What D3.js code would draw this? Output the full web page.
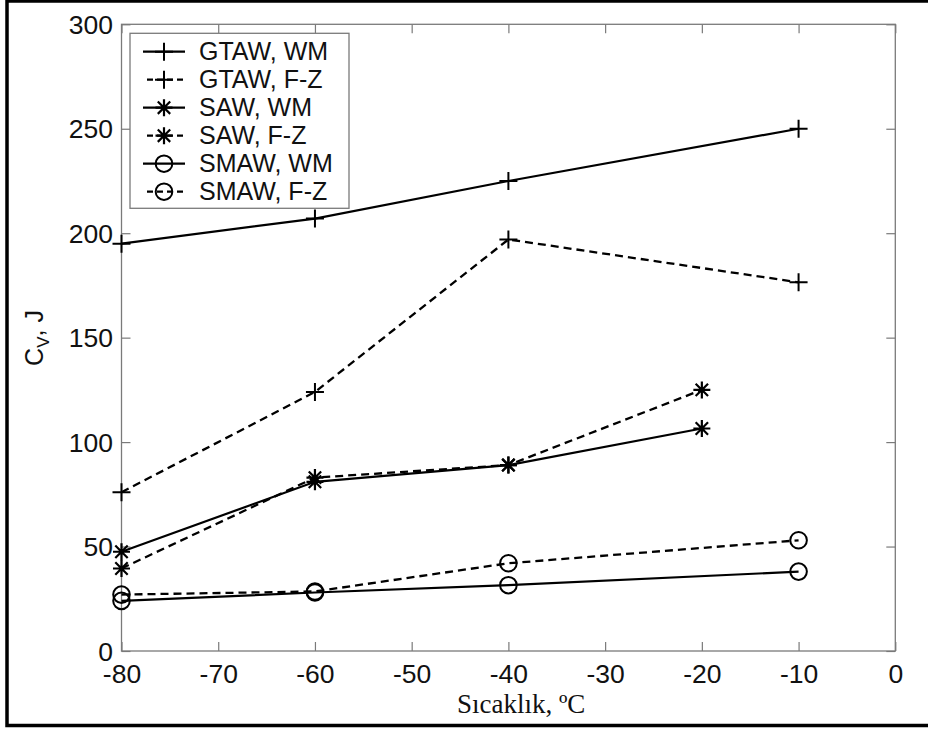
<!DOCTYPE html>
<html>
<head>
<meta charset="utf-8">
<script src="https://cdn.jsdelivr.net/npm/d3@7"></script>
<style>
  body { margin: 0; background: #fff; }
  .tick text { font-family: "Liberation Sans", Arial, sans-serif; font-size: 26.5px; fill: #111; }
  .tick line { stroke: #7a7a7a; stroke-width: 1.2; }
</style>
</head>
<body>
<div class="chart"></div>
<script>
var svgWidth = 928;
var svgHeight = 729;

var margin = { top: 24.3, right: 32.7, bottom: 78, left: 121.5 };
var width = svgWidth - margin.left - margin.right;
var height = svgHeight - margin.top - margin.bottom;

// data
var tempsA = [-80, -60, -40, -10];   // GTAW and SMAW
var tempsSAW = [-80, -60, -40, -20];
var gtawWM = [195, 207, 225, 250];
var gtawFZ = [76, 124, 197, 176.5];
var sawWM = [47.5, 81, 89, 106.5];
var sawFZ = [39.5, 83, 89, 125];
var smawWM = [24, 28, 31.5, 38];
var smawFZ = [27, 28.5, 42, 53];
var xTicks = [-80, -70, -60, -50, -40, -30, -20, -10, 0];
var yTicks = [0, 50, 100, 150, 200, 250, 300];

var seriesNames = ["GTAW, WM", "GTAW, F-Z", "SAW, WM", "SAW, F-Z", "SMAW, WM", "SMAW, F-Z"];
var seriesX = [tempsA, tempsA, tempsSAW, tempsSAW, tempsA, tempsA];
var seriesY = [gtawWM, gtawFZ, sawWM, sawFZ, smawWM, smawFZ];
var seriesMarker = ["plus", "plus", "star", "star", "circle", "circle"];
var seriesDashed = [false, true, false, true, false, true];

var series = seriesNames.map(function(name, i) {
  return {
    name: name,
    marker: seriesMarker[i],
    dashed: seriesDashed[i],
    points: seriesX[i].map(function(x, j) { return { x: x, y: seriesY[i][j] }; })
  };
});

var svg = d3.select(".chart")
  .append("svg")
  .attr("width", svgWidth)
  .attr("height", svgHeight);

// outer frame (right edge runs off the picture)
svg.append("rect")
  .attr("x", 7)
  .attr("y", 1)
  .attr("width", 960)
  .attr("height", 724.5)
  .attr("fill", "none")
  .attr("stroke", "#000")
  .attr("stroke-width", 3.5);

var chartGroup = svg.append("g")
  .attr("transform", `translate(${margin.left}, ${margin.top})`);

var xScale = d3.scaleLinear().domain([-80, 0]).range([0, width]);
var yScale = d3.scaleLinear().domain([0, 300]).range([height, 0]);

var fmt = function(d) { return String(d); };

chartGroup.append("g")
  .attr("transform", `translate(0, ${height})`)
  .call(d3.axisBottom(xScale).tickValues(xTicks).tickFormat(fmt).tickSizeInner(-9).tickSizeOuter(0).tickPadding(13.5))
  .call(g => g.select(".domain").remove());

chartGroup.append("g")
  .call(d3.axisTop(xScale).tickValues(xTicks).tickFormat("").tickSizeInner(-9).tickSizeOuter(0))
  .call(g => g.select(".domain").remove());

chartGroup.append("g")
  .call(d3.axisLeft(yScale).tickValues(yTicks).tickFormat(fmt).tickSizeInner(-9).tickSizeOuter(0).tickPadding(8.5))
  .call(g => g.select(".domain").remove())
  .call(g => g.selectAll("text").attr("dy", "0.34em"));

chartGroup.append("g")
  .attr("transform", `translate(${width}, 0)`)
  .call(d3.axisRight(yScale).tickValues(yTicks).tickFormat("").tickSizeInner(-9).tickSizeOuter(0))
  .call(g => g.select(".domain").remove());

// axes box
chartGroup.append("rect")
  .attr("width", width)
  .attr("height", height)
  .attr("fill", "none")
  .attr("stroke", "#7a7a7a")
  .attr("stroke-width", 1.3);

// marker drawing
function drawMarker(g, type, cx, cy) {
  if (type === "plus") {
    g.append("path")
      .attr("d", `M${cx - 9},${cy}H${cx + 9}M${cx},${cy - 9}V${cy + 9}`)
      .attr("stroke", "#000").attr("stroke-width", 2).attr("fill", "none");
  } else if (type === "star") {
    var a = 6.2;
    g.append("path")
      .attr("d", `M${cx - 8.5},${cy}H${cx + 8.5}M${cx},${cy - 8.5}V${cy + 8.5}` +
        `M${cx - a},${cy - a}L${cx + a},${cy + a}M${cx - a},${cy + a}L${cx + a},${cy - a}`)
      .attr("stroke", "#000").attr("stroke-width", 2.2).attr("fill", "none");
  } else {
    g.append("circle")
      .attr("cx", cx).attr("cy", cy).attr("r", 8.3)
      .attr("stroke", "#000").attr("stroke-width", 2).attr("fill", "none");
  }
}

var line = d3.line()
  .x(d => xScale(d.x))
  .y(d => yScale(d.y));

series.forEach(function(s) {
  chartGroup.append("path")
    .datum(s.points)
    .attr("d", line)
    .attr("fill", "none")
    .attr("stroke", "#000")
    .attr("stroke-width", s.dashed ? 2.3 : 2.2)
    .attr("stroke-dasharray", s.dashed ? "8,5" : null);
});

series.forEach(function(s) {
  var mg = chartGroup.append("g");
  s.points.forEach(function(p) {
    drawMarker(mg, s.marker, xScale(p.x), yScale(p.y));
  });
});

// legend
var legend = svg.append("g");
legend.append("rect")
  .attr("x", 130)
  .attr("y", 33.3)
  .attr("width", 219)
  .attr("height", 175)
  .attr("fill", "#fff")
  .attr("stroke", "#7a7a7a")
  .attr("stroke-width", 1.3);

series.forEach(function(s, i) {
  var ly = 51.7 + i * 28;
  var row = legend.append("g");
  row.append("line")
    .attr("x1", s.dashed ? 147 : 143)
    .attr("x2", s.dashed ? 184 : 185)
    .attr("y1", ly).attr("y2", ly)
    .attr("stroke", "#000")
    .attr("stroke-width", 2.2)
    .attr("stroke-dasharray", s.dashed ? "6,4" : null);
  drawMarker(row, s.marker, 164, ly);
  row.append("text")
    .attr("x", 199)
    .attr("y", ly + 8.4)
    .attr("font-family", "'Liberation Sans', Arial, sans-serif")
    .attr("font-size", "25px")
    .attr("fill", "#111")
    .text(s.name);
});

// axis labels
svg.append("text")
  .attr("x", 457)
  .attr("y", 713)
  .attr("font-family", "'Liberation Serif', 'Times New Roman', serif")
  .attr("font-size", "27px")
  .attr("fill", "#111")
  .text("Sıcaklık, ºC");

var yLabel = svg.append("text")
  .attr("transform", "translate(43, 338) rotate(-90)")
  .attr("text-anchor", "middle")
  .attr("font-family", "'Liberation Sans', Arial, sans-serif")
  .attr("font-size", "25px")
  .attr("fill", "#111");
yLabel.append("tspan").text("C");
yLabel.append("tspan").attr("font-size", "17px").attr("dy", 6).text("V");
yLabel.append("tspan").attr("dy", -6).text(", J");
</script>
</body>
</html>
